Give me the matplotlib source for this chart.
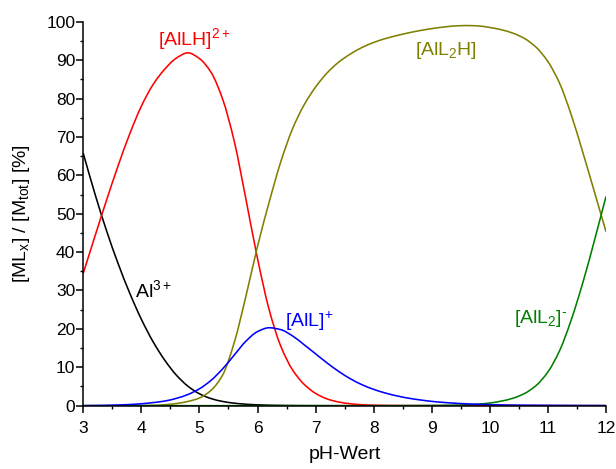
import numpy as np
import matplotlib
matplotlib.use("Agg")
import matplotlib.pyplot as plt
from matplotlib.ticker import MultipleLocator
from matplotlib.path import Path
from matplotlib.patches import PathPatch

plt.rcParams['font.family'] = ['Liberation Sans', 'DejaVu Sans']
plt.rcParams['mathtext.default'] = 'regular'

ph = [3.0, 3.2, 3.4, 3.6, 3.8, 4.0, 4.2, 4.4, 4.6, 4.8,
      5.0, 5.2, 5.4, 5.6, 5.8, 6.0, 6.2, 6.4, 6.6, 6.8,
      7.0, 7.2, 7.4, 7.6, 7.8, 8.0, 8.2, 8.4, 8.6, 8.8,
      9.0, 9.2, 9.4, 9.6, 9.8, 10.0, 10.2, 10.4, 10.6, 10.8,
      11.0, 11.2, 11.4, 11.6, 11.8, 12.0]

al3 = [65.7, 55.2, 45.6, 37.0, 29.3, 22.5, 16.7, 11.9, 8.0, 5.1,
       3.1, 1.85, 1.1, 0.65, 0.38, 0.22, 0.13, 0.07, 0.04, 0.02,
       0.01, 0, 0, 0, 0, 0, 0, 0, 0, 0,
       0, 0, 0, 0, 0, 0, 0, 0, 0, 0,
       0, 0, 0, 0, 0, 0]

allh = [34.5, 44.1, 53.5, 62.5, 70.8, 78.0, 83.6, 87.6, 90.5, 91.9,
        90.4, 86.8, 79.8, 68.8, 53.8, 38.3, 25.0, 15.5, 9.4, 5.6,
        3.2, 1.75, 0.95, 0.5, 0.25, 0.12, 0.06, 0.03, 0.01, 0,
        0, 0, 0, 0, 0, 0, 0, 0, 0, 0,
        0, 0, 0, 0, 0, 0]

all_ = [0.02, 0.05, 0.1, 0.18, 0.3, 0.5, 0.8, 1.2, 1.9, 2.9,
        4.4, 6.6, 9.6, 13.2, 16.8, 19.3, 20.3, 19.8, 18.2, 15.9,
        13.5, 11.1, 8.9, 7.0, 5.45, 4.25, 3.3, 2.55, 1.95, 1.5,
        1.12, 0.85, 0.64, 0.48, 0.36, 0.27, 0.2, 0.15, 0.12, 0.1,
        0.08, 0.06, 0.05, 0.04, 0.03, 0.02]

all2h = [0, 0, 0, 0, 0.02, 0.05, 0.1, 0.25, 0.55, 1.1,
         2.0, 4.0, 8.0, 16.5, 28.5, 41.5, 53.0, 63.5, 72.0, 78.3,
         83.0, 86.7, 89.5, 91.6, 93.3, 94.6, 95.6, 96.4, 97.1, 97.7,
         98.2, 98.6, 98.9, 99.0, 98.9, 98.5, 97.9, 97.0, 95.6, 93.3,
         89.6, 84.0, 75.8, 66.0, 55.7, 45.3]

all2 = [0, 0, 0, 0, 0, 0, 0, 0, 0, 0,
        0, 0, 0, 0, 0, 0, 0, 0, 0, 0,
        0, 0, 0, 0, 0, 0, 0, 0, 0.02, 0.03,
        0.05, 0.08, 0.13, 0.22, 0.4, 0.7, 1.2, 1.95, 3.2, 5.3,
        8.8, 14.3, 22.3, 32.0, 43.0, 54.5]


def smooth_path(x, y):
    """Bezier path through the read points (monotone cubic tangents)."""
    x = np.asarray(x, float)
    y = np.asarray(y, float)
    h = np.diff(x)
    d = np.diff(y) / h
    n = len(x)
    m = np.zeros(n)
    m[0], m[-1] = d[0], d[-1]
    for k in range(1, n - 1):
        if d[k - 1] * d[k] <= 0:
            m[k] = 0.0
        else:
            w1 = 2 * h[k] + h[k - 1]
            w2 = h[k] + 2 * h[k - 1]
            m[k] = (w1 + w2) / (w1 / d[k - 1] + w2 / d[k])
    verts = [(x[0], y[0])]
    codes = [Path.MOVETO]
    for k in range(n - 1):
        hk = h[k]
        verts += [(x[k] + hk / 3, y[k] + m[k] * hk / 3),
                  (x[k + 1] - hk / 3, y[k + 1] - m[k + 1] * hk / 3),
                  (x[k + 1], y[k + 1])]
        codes += [Path.CURVE4] * 3
    return Path(verts, codes)


fig = plt.figure(figsize=(6.16, 4.69), dpi=100)
ax = fig.add_axes([0.1352, 0.135, 0.9838 - 0.1352, 0.9537 - 0.135])

lw = 1.15
series = [(al3, 'black'), (allh, '#ff0000'), (all2h, '#808000'),
          (all2, '#008000'), (all_, '#0000ff')]
for ys, col in series:
    ax.add_patch(PathPatch(smooth_path(ph, ys), facecolor='none',
                           edgecolor=col, lw=lw, capstyle='butt'))

ax.set_xlim(3, 12)
ax.set_ylim(0, 100)
ax.xaxis.set_major_locator(MultipleLocator(1))
ax.xaxis.set_minor_locator(MultipleLocator(0.5))
ax.yaxis.set_major_locator(MultipleLocator(10))
ax.yaxis.set_minor_locator(MultipleLocator(5))

for s in ['top', 'right']:
    ax.spines[s].set_visible(False)
for s in ['left', 'bottom']:
    ax.spines[s].set_linewidth(1.1)

ax.tick_params(which='major', direction='out', length=4.8, width=1.1,
               labelsize=12.5)
ax.tick_params(which='minor', direction='out', length=2.4, width=1.0)
ax.tick_params(axis='x', which='major', pad=6.5)
ax.tick_params(axis='y', which='major', pad=1)

ax.set_xlabel('pH-Wert', fontsize=14, labelpad=7)
ax.set_ylabel('[ML$_x$] / [M$_{tot}$] [%]', fontsize=14, labelpad=10)

fs = 14
ax.text(4.29, 94.0, '[AlLH]$^{2+}$', color='#ff0000', fontsize=fs, va='baseline', ha='left')
ax.text(8.71, 91.3, '[AlL$_2$H]', color='#808000', fontsize=fs, va='baseline', ha='left')
ax.text(3.89, 28.4, 'Al$^{3+}$', color='black', fontsize=fs, va='baseline', ha='left')
ax.text(6.47, 20.6, '[AlL]$^{+}$', color='#0000ff', fontsize=fs, va='baseline', ha='left')
ax.text(10.42, 21.5, '[AlL$_2$]$^{\u2010}$', color='#008000', fontsize=fs, va='baseline', ha='left')

fig.savefig('out.png', dpi=100)
